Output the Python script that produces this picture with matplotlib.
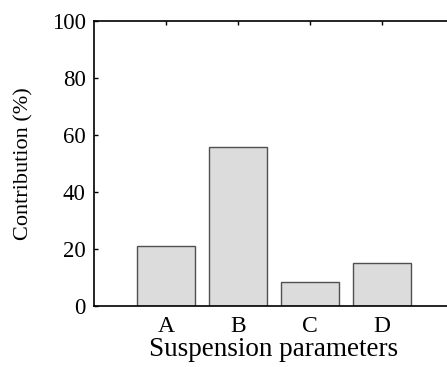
import matplotlib
matplotlib.use('Agg')
import matplotlib.pyplot as plt
import numpy as np

# Contribution of each suspension parameter
params = ['A', 'B', 'C', 'D']
contribution = [20.9, 55.8, 8.4, 15.0]
yticks = [0, 20, 40, 60, 80, 100]

plt.rcParams['font.family'] = 'Liberation Serif'

fig = plt.figure(figsize=(4.47, 3.67), dpi=100)
ax = fig.add_axes([94/447, (367-306)/367, 360/447, 285/367])

x = np.arange(1, len(params) + 1)
ax.bar(x, contribution, width=0.8, color='#dcdcdc', edgecolor='#505050', linewidth=1.0)

ax.set_xlim(0, 5)
ax.set_ylim(0, 100)
ax.set_xticks(x)
ax.set_xticklabels(params, fontsize=17)
ax.set_yticks(yticks)
ax.set_yticklabels([str(v) for v in yticks], fontsize=16.5)
ax.tick_params(direction='in', length=3, width=1, top=True, bottom=False, pad=6)
ax.tick_params(axis='x', pad=7)
for s in ax.spines.values():
    s.set_linewidth(1.2)

ax.set_xlabel('Suspension parameters', fontsize=19.5, labelpad=0)
ax.set_ylabel('Contribution (%)', fontsize=16, labelpad=13)

fig.savefig('out.png', dpi=100)
